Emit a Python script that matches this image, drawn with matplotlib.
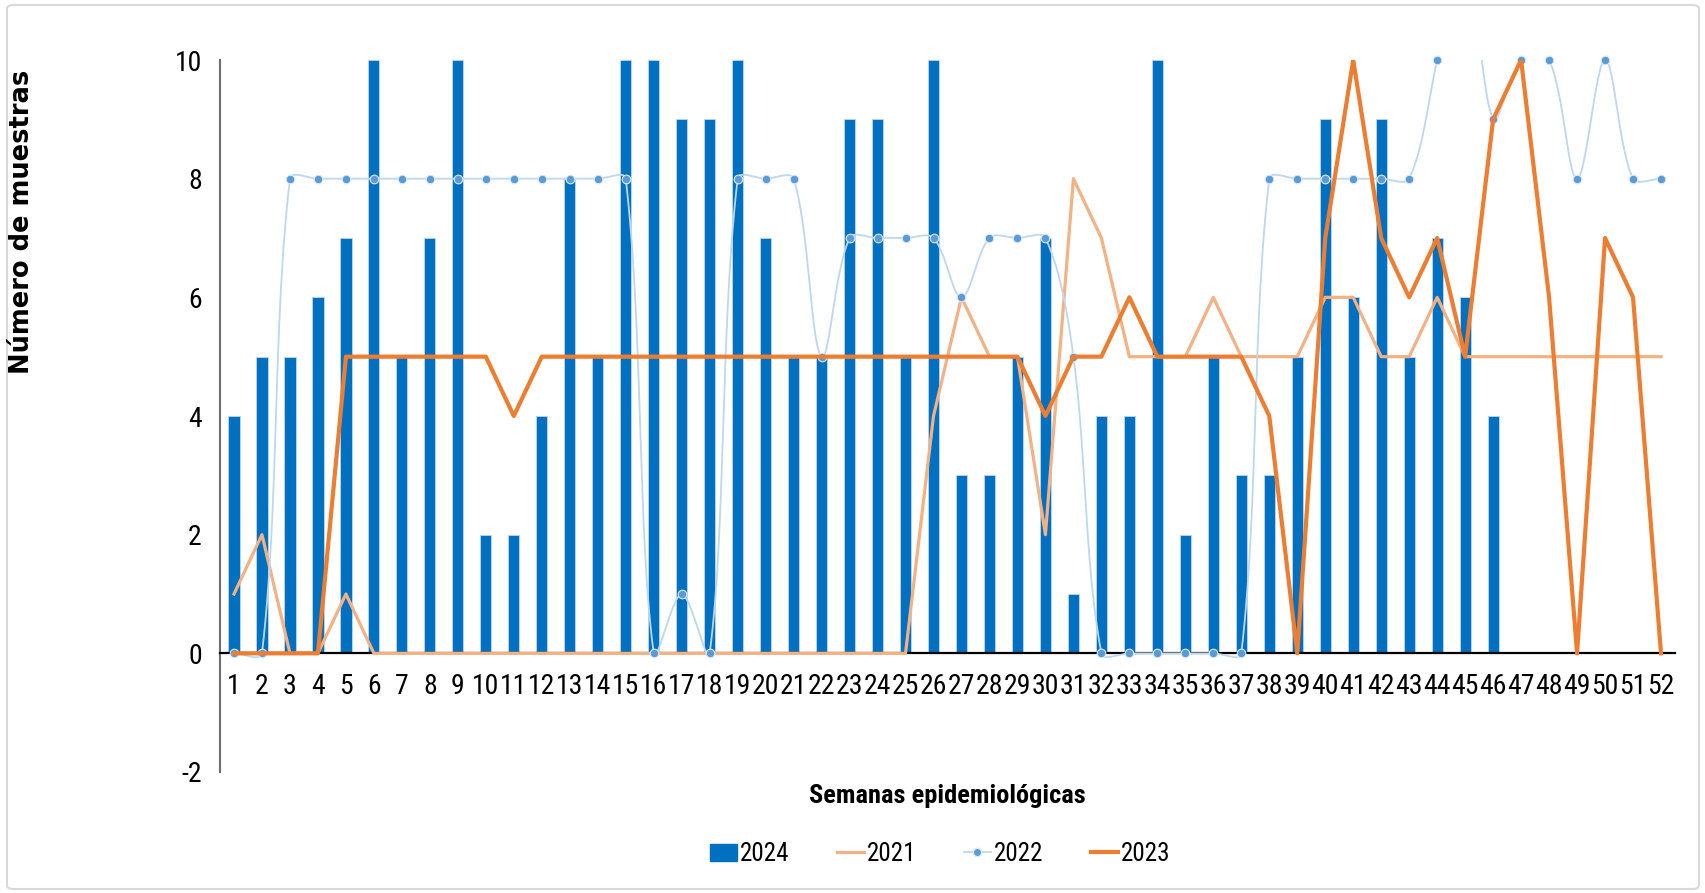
import numpy as np
import matplotlib
matplotlib.use("Agg")
import matplotlib.pyplot as plt
from matplotlib import font_manager as fm
from matplotlib.patches import FancyBboxPatch, Patch
from matplotlib.lines import Line2D

plt.rcParams["axes.unicode_minus"] = False

# ---------------- data ----------------
weeks = list(range(1, 53))
week_labels = [str(w) for w in weeks]

s2024 = [4, 5, 5, 6, 7, 10, 5, 7, 10, 2, 2, 4, 8, 5, 10, 10, 9, 9, 10, 7,
         5, 5, 9, 9, 5, 10, 3, 3, 5, 7, 1, 4, 4, 10, 2, 5, 3, 3, 5, 9,
         6, 9, 5, 7, 6, 4]

s2021 = [1, 2, 0, 0, 1, 0, 0, 0, 0, 0, 0, 0, 0, 0, 0, 0, 0, 0, 0, 0,
         0, 0, 0, 0, 0, 4, 6, 5, 5, 2, 8, 7, 5, 5, 5, 6, 5, 5, 5, 6,
         6, 5, 5, 6, 5, 5, 5, 5, 5, 5, 5, 5]

s2022 = [0, 0, 8, 8, 8, 8, 8, 8, 8, 8, 8, 8, 8, 8, 8, 0, 1, 0, 8, 8,
         8, 5, 7, 7, 7, 7, 6, 7, 7, 7, 5, 0, 0, 0, 0, 0, 0, 8, 8, 8,
         8, 8, 8, 10, 12, 9, 10, 10, 8, 10, 8, 8]

s2023 = [0, 0, 0, 0, 5, 5, 5, 5, 5, 5, 4, 5, 5, 5, 5, 5, 5, 5, 5, 5,
         5, 5, 5, 5, 5, 5, 5, 5, 5, 4, 5, 5, 6, 5, 5, 5, 5, 4, 0, 7,
         10, 7, 6, 7, 5, 9, 10, 6, 0, 7, 6, 0]

series_labels = ["2024", "2021", "2022", "2023"]
y_ticks = [-2, 0, 2, 4, 6, 8, 10]

C_BAR = "#0070C0"
C_2021 = "#F4B183"
C_2022_LINE = "#BDD7EE"
C_2022_MARK = "#5B9BD5"
C_2023 = "#ED7D31"

all_names = {f.name for f in fm.fontManager.ttflist}
NARROW_FAM = None
for p in ["Liberation Sans Narrow", "Arial Narrow", "Roboto Condensed", "Archivo Narrow"]:
    if p in all_names:
        NARROW_FAM = p
        break
NARROW = ([NARROW_FAM] if NARROW_FAM else []) + ["Liberation Sans", "DejaVu Sans"]

W, H = 1706, 893
PX_PER_UNIT_Y = (772 - 60) / 12.0
PX_PER_WEEK = (1675 - 220) / 52.0


def smooth_curve(x, y, n=30):
    """Excel-like smoothed line: Bezier segments whose control arms are
    scaled by neighbouring chord lengths measured on screen."""
    x = np.asarray(x, float)
    y = np.asarray(y, float)
    X = x * PX_PER_WEEK
    Y = y * PX_PER_UNIT_Y
    PX = np.concatenate([[X[0]], X, [X[-1]]])
    PY = np.concatenate([[Y[0]], Y, [Y[-1]]])
    t = np.linspace(0, 1, n)
    xs, ys = [], []
    for i in range(1, len(PX) - 2):
        p0 = np.array([PX[i - 1], PY[i - 1]])
        p1 = np.array([PX[i], PY[i]])
        p2 = np.array([PX[i + 1], PY[i + 1]])
        p3 = np.array([PX[i + 2], PY[i + 2]])
        d01 = np.hypot(*(p1 - p0))
        d12 = np.hypot(*(p2 - p1))
        d23 = np.hypot(*(p3 - p2))
        c1 = p1 + (p2 - p0) * (d12 / (3.0 * (d01 + d12))) if d01 + d12 > 0 else p1
        c2 = p2 - (p3 - p1) * (d12 / (3.0 * (d12 + d23))) if d12 + d23 > 0 else p2
        b = (((1 - t) ** 3)[:, None] * p1 + (3 * (1 - t) ** 2 * t)[:, None] * c1
             + (3 * (1 - t) * t ** 2)[:, None] * c2 + (t ** 3)[:, None] * p2)
        if i > 1:
            b = b[1:]
        xs.append(b[:, 0] / PX_PER_WEEK)
        ys.append(b[:, 1] / PX_PER_UNIT_Y)
    return np.concatenate(xs), np.concatenate(ys)


fig = plt.figure(figsize=(W / 100, H / 100), dpi=100)
fig.patch.set_facecolor("white")

border = FancyBboxPatch((7 / W, 4 / H), (1699 - 7) / W, (888 - 4) / H,
                        boxstyle="round,pad=0,rounding_size=0.004",
                        transform=fig.transFigure, facecolor="none",
                        edgecolor="#D9D9D9", linewidth=1.5)
fig.patches.append(border)

ax = fig.add_axes([220 / W, 1 - 772 / H, (1675 - 220) / W, (772 - 60) / H])
ax.set_facecolor("none")

x = np.array(weeks, float)

ax.bar(x[:len(s2024)], s2024, width=0.4, color=C_BAR, edgecolor="#BDD7EE",
       linewidth=0.6, zorder=2)

ax.plot(x, s2021, color=C_2021, linewidth=2.3, zorder=3)

sx, sy = smooth_curve(x, s2022)
ax.plot(sx, sy, color=C_2022_LINE, linewidth=1.3, zorder=4)
ax.plot(x, s2022, linestyle="none", marker="o", markersize=6.2,
        markerfacecolor=C_2022_MARK, markeredgecolor="#DEEBF7",
        markeredgewidth=0.8, zorder=5, clip_on=False)

ax.plot(x, s2023, color=C_2023, linewidth=3.0, zorder=6)

ax.set_xlim(0.5, 52.5)
ax.set_ylim(-2, 10)
ax.set_yticks(y_ticks)
ax.set_xticks(x)
ax.set_xticklabels(week_labels)

for s in ["top", "right"]:
    ax.spines[s].set_visible(False)
ax.spines["bottom"].set_position(("data", 0))
ax.spines["bottom"].set_color("black")
ax.spines["bottom"].set_linewidth(1.6)
ax.spines["bottom"].set_zorder(2.5)
ax.spines["left"].set_color("#6E6E6E")
ax.spines["left"].set_linewidth(1.5)

ax.tick_params(axis="both", length=0)
ax.tick_params(axis="x", pad=14)
ax.tick_params(axis="y", pad=13)
for lab in ax.get_xticklabels() + ax.get_yticklabels():
    lab.set_family(NARROW)
    lab.set_fontsize(20)
    lab.set_color("black")

fig.text(947 / W, 1 - 796 / H, "Semanas epidemiológicas", ha="center", va="center",
         fontsize=19, fontweight="bold", family=NARROW)
fig.text(22 / W, 1 - 222 / H, "Número de muestras", ha="center", va="center",
         rotation=90, fontsize=18.5, fontweight="bold", family=["DejaVu Sans"])

handles = [
    Patch(facecolor=C_BAR, edgecolor=C_BAR),
    Line2D([], [], color=C_2021, linewidth=2.3),
    Line2D([], [], color=C_2022_LINE, linewidth=1.3, marker="o", markersize=6,
           markerfacecolor=C_2022_MARK, markeredgecolor="#DEEBF7"),
    Line2D([], [], color=C_2023, linewidth=3.0),
]
fig.legend(handles, series_labels, loc="center", bbox_to_anchor=(940 / W, 1 - 854 / H),
           ncol=4, frameon=False, handlelength=1.08, handleheight=0.65,
           handletextpad=0.12, columnspacing=1.9,
           prop={"family": NARROW, "size": 18})

fig.savefig("out.png", dpi=100, facecolor="white")
